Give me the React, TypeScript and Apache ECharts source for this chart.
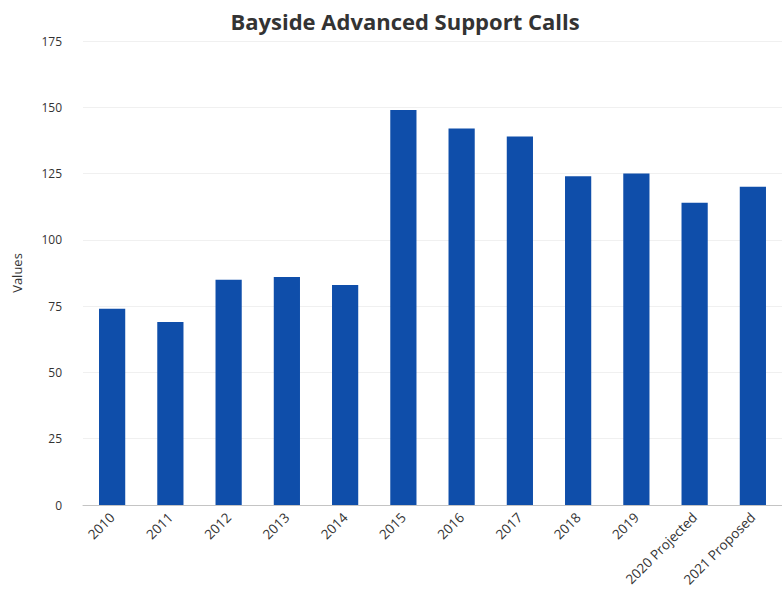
import React, { useEffect, useRef } from "react";
import * as echarts from "echarts";

const categories = [
  "2010", "2011", "2012", "2013", "2014", "2015", "2016", "2017", "2018", "2019",
  "2020 Projected", "2021 Proposed",
];
const values = [74, 69, 85, 86, 83, 149, 142, 139, 124, 125, 114, 120];
const yTicks = { min: 0, max: 175, interval: 25 };

export default function App() {
  const ref = useRef<HTMLDivElement>(null);
  useEffect(() => {
    if (!ref.current) return;
    const chart = echarts.init(ref.current, undefined, { renderer: "svg" });
    chart.setOption({
      animation: false,
      backgroundColor: "#ffffff",
      title: {
        text: "Bayside Advanced Support Calls",
        left: 400,
        textAlign: "center",
        top: 5,
        textStyle: { fontFamily: "Open Sans", fontWeight: "bold", fontSize: 22, color: "#333333" },
      },
      grid: { left: 83, right: -12, top: 41, bottom: 96, containLabel: false },
      xAxis: {
        type: "category",
        data: categories,
        axisTick: { show: false },
        axisLine: { show: true, lineStyle: { color: "#c4c4c4", width: 1 } },
        axisLabel: {
          rotate: 45,
          margin: 10,
          fontFamily: "Open Sans",
          fontSize: 13.5,
          color: "#333333",
          interval: 0,
        },
      },
      yAxis: {
        type: "value",
        min: yTicks.min,
        max: yTicks.max,
        interval: yTicks.interval,
        name: "Values",
        nameLocation: "middle",
        nameGap: 60,
        nameTextStyle: { fontFamily: "Open Sans", fontSize: 13, color: "#333333" },
        axisLine: { show: false },
        axisTick: { show: false },
        axisLabel: { margin: 21, fontFamily: "Open Sans", fontSize: 12, color: "#333333" },
        splitLine: { show: true, lineStyle: { color: "#f0f0f0", width: 1 } },
      },
      series: [
        {
          type: "bar",
          data: values,
          barWidth: "45%",
          itemStyle: { color: "#0f4eaa" },
        },
      ],
    });
    return () => chart.dispose();
  }, []);
  return (
    <div
      ref={ref}
      style={{ position: "absolute", left: 0, top: 0, width: 782, height: 601 }}
    />
  );
}
